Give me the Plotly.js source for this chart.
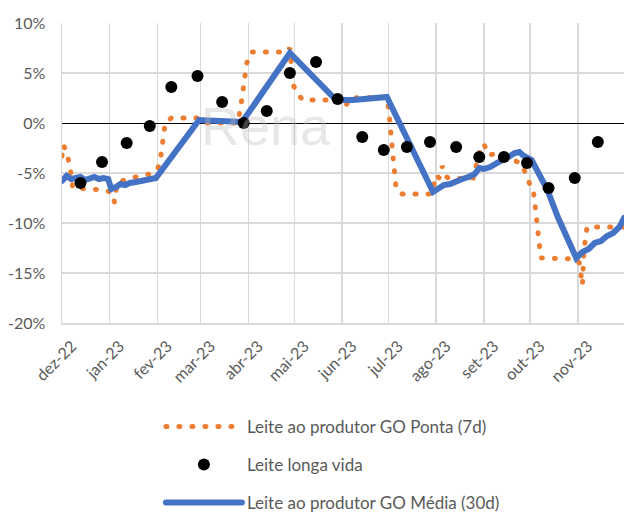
<!DOCTYPE html>
<html>
<head>
<meta charset="utf-8">
<script src="https://cdn.plot.ly/plotly-3.0.1.min.js"></script>
<style>
html,body{margin:0;padding:0;background:#fff;}
#chart{width:624px;height:513px;}
.js-line{stroke-linecap:round;}
</style>
</head>
<body>
<div id="chart"></div>
<script>
// Tick labels
const monthTicks = ['2022-12-01','2023-01-01','2023-02-01','2023-03-01','2023-04-01','2023-05-01','2023-06-01','2023-07-01','2023-08-01','2023-09-01','2023-10-01','2023-11-01'];
const monthLabels = ['dez-22','jan-23','fev-23','mar-23','abr-23','mai-23','jun-23','jul-23','ago-23','set-23','out-23','nov-23'];
const yTicks = [-20, -15, -10, -5, 0, 5, 10];
const yLabels = ['-20%', '-15%', '-10%', '-5%', '0%', '5%', '10%'];

// Leite ao produtor GO Ponta (7d)
const pontaDates = ['2022-12-01','2022-12-02','2022-12-04','2022-12-06','2022-12-08','2022-12-29','2023-01-03','2023-01-04','2023-01-05','2023-01-06','2023-01-12','2023-01-19','2023-01-27','2023-02-01','2023-02-03','2023-02-05','2023-02-06','2023-02-10','2023-02-28','2023-03-04','2023-03-25','2023-03-27','2023-03-29','2023-03-31','2023-04-03','2023-04-26','2023-04-28','2023-04-29','2023-04-30','2023-05-03','2023-05-06','2023-05-28','2023-05-31','2023-06-03','2023-06-06','2023-06-29','2023-07-01','2023-07-06','2023-07-10','2023-07-29','2023-08-01','2023-08-03','2023-08-05','2023-08-07','2023-08-10','2023-08-25','2023-08-27','2023-08-30','2023-09-01','2023-09-04','2023-09-08','2023-09-13','2023-09-25','2023-09-28','2023-10-01','2023-10-03','2023-10-04','2023-10-08','2023-10-31','2023-11-02','2023-11-04','2023-11-05','2023-11-07','2023-12-01'];
const pontaValues = [-3.3,-2.2,-3.0,-4.2,-6.5,-6.7,-7.0,-7.9,-6.8,-6.0,-5.6,-5.4,-5.1,-4.7,-3.5,-1.2,0.0,0.5,0.5,0.0,0.0,1.5,3.8,6.0,7.1,7.1,7.5,6.1,3.8,3.1,2.3,2.3,2.1,1.6,2.5,2.6,1.6,-6.6,-7.1,-7.1,-5.2,-5.5,-4.3,-5.3,-5.6,-5.5,-4.4,-2.4,-2.1,-3.2,-3.1,-3.4,-4.0,-5.0,-6.2,-6.5,-7.8,-13.5,-13.6,-14.0,-16.2,-12.7,-10.4,-10.4];

// Leite longa vida
const longaDates = ['2022-12-13','2022-12-27','2023-01-12','2023-01-27','2023-02-10','2023-02-27','2023-03-15','2023-03-29','2023-04-13','2023-04-28','2023-05-15','2023-05-29','2023-06-14','2023-06-28','2023-07-13','2023-07-28','2023-08-14','2023-08-29','2023-09-14','2023-09-29','2023-10-13','2023-10-30','2023-11-14'];
const longaValues = [-6.0,-3.9,-2.0,-0.3,3.6,4.7,2.1,0.0,1.2,5.0,6.1,2.4,-1.4,-2.7,-2.4,-1.9,-2.4,-3.4,-3.4,-4.0,-6.5,-5.5,-1.9];

// Leite ao produtor GO Média (30d)
const mediaDates = ['2022-12-01','2022-12-04','2022-12-07','2022-12-10','2022-12-13','2022-12-16','2022-12-19','2022-12-22','2022-12-25','2022-12-28','2022-12-31','2023-01-02','2023-01-05','2023-01-08','2023-01-11','2023-01-14','2023-01-18','2023-01-22','2023-01-26','2023-01-31','2023-02-28','2023-03-28','2023-04-28','2023-05-28','2023-06-08','2023-06-18','2023-06-30','2023-07-30','2023-08-03','2023-08-06','2023-08-10','2023-08-14','2023-08-18','2023-08-22','2023-08-26','2023-08-29','2023-09-01','2023-09-05','2023-09-09','2023-09-13','2023-09-17','2023-09-21','2023-09-24','2023-09-27','2023-10-02','2023-10-12','2023-10-19','2023-10-25','2023-10-31','2023-11-04','2023-11-08','2023-11-12','2023-11-16','2023-11-20','2023-11-24','2023-11-28','2023-12-01'];
const mediaValues = [-5.8,-5.3,-5.6,-5.5,-5.4,-5.7,-5.6,-5.4,-5.6,-5.5,-5.6,-6.6,-6.4,-6.1,-6.2,-6.0,-5.9,-5.8,-5.7,-5.5,0.3,0.1,7.0,2.3,2.3,2.5,2.6,-6.9,-6.5,-6.2,-6.1,-5.8,-5.6,-5.4,-5.1,-4.5,-4.6,-4.4,-4.0,-3.7,-3.4,-3.0,-2.9,-3.3,-3.7,-6.6,-9.4,-11.6,-13.5,-12.9,-12.6,-12.0,-11.8,-11.3,-11.0,-10.4,-9.5];

const font = 'Lato, "Open Sans", sans-serif';
const grey = '#595959';

const traces = [
  {x: pontaDates, y: pontaValues, type: 'scatter', mode: 'lines', name: 'Leite ao produtor GO Ponta (7d)',
   line: {color: '#ED7D31', width: 5, dash: '1px,12px'}, legendrank: 1, legendgroup: 'a'},
  {x: mediaDates, y: mediaValues, type: 'scatter', mode: 'lines', name: 'Leite ao produtor GO Média (30d)',
   line: {color: '#4472C4', width: 6}, legendrank: 3, legendgroup: 'c'},
  {x: longaDates, y: longaValues, type: 'scatter', mode: 'markers', name: 'Leite longa vida',
   marker: {color: '#000000', size: 12}, legendrank: 2, legendgroup: 'b'}
];

const layout = {
  width: 624, height: 513,
  margin: {l: 62, r: 0, t: 23, b: 190},
  paper_bgcolor: '#fff', plot_bgcolor: '#fff',
  font: {family: font, color: grey, size: 15},
  showlegend: true,
  legend: {x: 0.176, xref: 'paper', y: 0.203, yref: 'container', xanchor: 'left', yanchor: 'top', orientation: 'v',
           font: {family: font, size: 17, color: grey}, itemwidth: 76,
           traceorder: 'grouped', tracegroupgap: 13, bgcolor: 'rgba(0,0,0,0)'},
  xaxis: {type: 'date', range: ['2022-12-01', '2023-12-01'], tickvals: monthTicks, ticktext: monthLabels,
          tickangle: -45, showgrid: true, gridcolor: '#d9d9d9', gridwidth: 1.5,
          showline: true, linecolor: '#d9d9d9', linewidth: 1.5, ticks: '', zeroline: false,
          ticklabelshift: 10, ticklabelstandoff: 6,
          tickfont: {family: font, size: 16, color: grey}},
  yaxis: {range: [-20, 10], tickvals: yTicks, ticktext: yLabels,
          showgrid: true, gridcolor: '#d9d9d9', gridwidth: 1.5,
          showline: true, linecolor: '#d9d9d9', linewidth: 1.5,
          zeroline: true, zerolinecolor: '#000', zerolinewidth: 1, ticks: '',
          ticklabelstandoff: 12,
          tickfont: {family: font, size: 16, color: grey}},
  annotations: [
    {text: 'Rena', xref: 'paper', yref: 'paper', x: 0.244, y: 0.655, showarrow: false,
     font: {family: 'Liberation Sans, sans-serif', size: 54, color: 'rgba(185,185,185,0.35)'}}
  ]
};

Plotly.newPlot('chart', traces, layout, {displayModeBar: false, staticPlot: true});
</script>
</body>
</html>
